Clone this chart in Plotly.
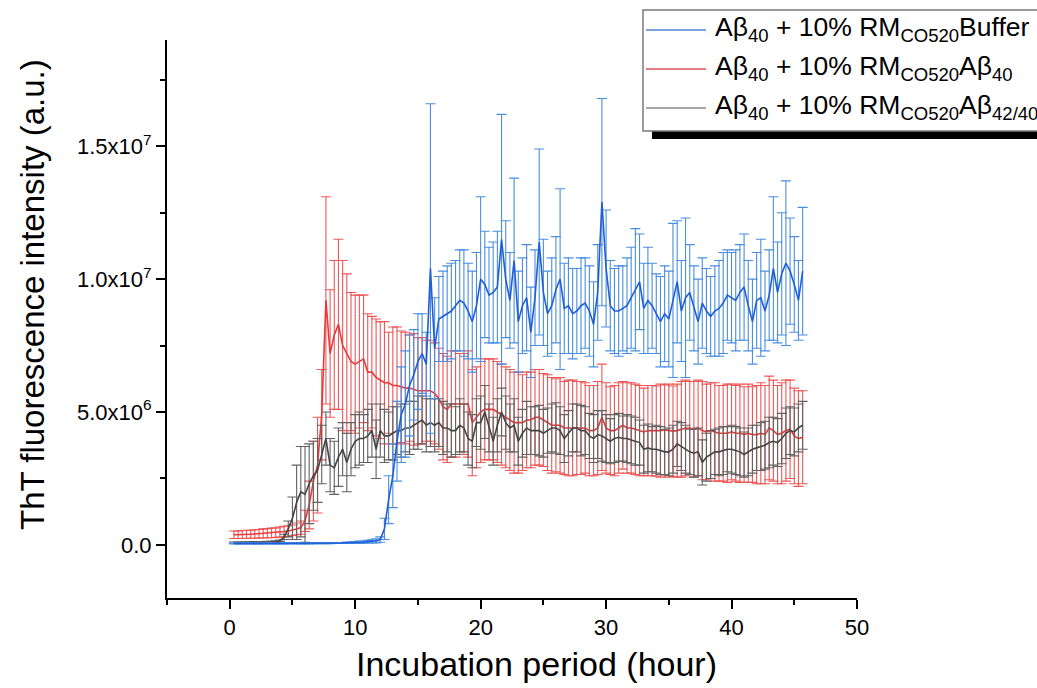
import plotly.graph_objects as go

# Sampling schedule: every 20 min, 137 reads
time_h = [round((i + 1) / 3, 3) for i in range(137)]

# Values in units of 1e6 (a.u.)
buffer_mean = [
    0.05, 0.05, 0.05, 0.06, 0.05, 0.05, 0.05, 0.05, 0.06, 0.05, 0.05, 0.05,
    0.05, 0.05, 0.06, 0.05, 0.05, 0.05, 0.05, 0.06, 0.06, 0.06, 0.06, 0.06,
    0.07, 0.07, 0.07, 0.08, 0.08, 0.09, 0.10, 0.10, 0.12, 0.13, 0.15, 0.20,
    0.6, 1.7, 2.6, 3.9, 4.9, 5.3, 6.0, 6.4, 6.9, 7.2, 6.8, 10.4,
    7.4, 8.5, 8.6, 8.7, 8.8, 9.0, 9.2, 9.1, 8.8, 8.4, 9.0, 10.0,
    9.8, 9.4, 9.5, 9.7, 11.5, 10.0, 9.2, 10.7, 8.4, 9.0, 9.3, 8.0,
    9.3, 11.4, 9.5, 8.7, 9.0, 9.6, 10.0, 8.9, 9.0, 8.7, 8.8, 9.0,
    9.1, 8.8, 8.3, 9.5, 12.9, 10.4, 9.0, 8.8, 8.8, 8.9, 9.0, 9.3,
    9.6, 9.9, 8.9, 9.2, 9.0, 8.7, 8.4, 8.7, 8.5, 9.2, 9.9, 8.8,
    9.3, 9.5, 8.9, 8.4, 9.1, 8.8, 8.6, 8.8, 8.9, 9.1, 9.4, 9.3,
    9.2, 9.5, 9.7, 9.0, 8.4, 9.2, 9.3, 8.8, 9.4, 10.4, 9.5, 10.2,
    10.6, 10.3, 9.8, 9.2, 10.3,
]
buffer_err = [
    0.02, 0.02, 0.02, 0.02, 0.02, 0.02, 0.02, 0.02, 0.02, 0.02, 0.02, 0.02,
    0.02, 0.02, 0.02, 0.02, 0.02, 0.02, 0.02, 0.02, 0.02, 0.02, 0.02, 0.02,
    0.02, 0.02, 0.02, 0.03, 0.03, 0.03, 0.04, 0.04, 0.05, 0.06, 0.08, 0.10,
    0.4, 0.9, 1.2, 1.5, 1.8, 2.0, 1.9, 1.7, 1.8, 1.5, 1.2, 6.2,
    1.9, 1.6, 1.7, 1.8, 1.8, 1.7, 1.9, 2.0, 1.8, 1.9, 2.0, 3.1,
    2.0, 1.8, 1.9, 2.1, 4.7, 2.2, 1.8, 3.1, 1.9, 1.8, 2.0, 1.7,
    1.8, 3.5, 2.0, 1.6, 1.8, 2.0, 3.4, 1.7, 1.8, 1.7, 1.6, 1.8,
    1.7, 1.7, 1.6, 1.8, 3.9, 2.2, 1.7, 1.6, 1.7, 1.6, 1.8, 1.9,
    2.3, 1.8, 1.7, 2.0, 1.6, 1.5, 1.7, 1.8, 1.8, 2.9, 2.3, 1.9,
    3.0, 1.8, 1.6, 1.6, 1.7, 1.6, 1.5, 1.7, 1.8, 1.9, 1.7, 1.7,
    1.9, 1.8, 2.0, 1.7, 1.6, 1.8, 2.2, 1.5, 1.7, 2.7, 1.9, 2.3,
    3.1, 2.0, 1.8, 1.5, 2.4,
]

ab40_mean = [
    0.38, 0.38, 0.39, 0.40, 0.40, 0.41, 0.42, 0.43, 0.44, 0.45, 0.46, 0.48,
    0.50, 0.52, 0.55, 0.60, 0.65, 0.90, 1.5, 2.4, 3.0, 4.9, 9.2, 7.2,
    7.9, 8.3, 7.5, 7.2, 6.9, 6.8, 6.9, 7.0, 6.5, 6.5, 6.3, 6.2,
    6.1, 6.1, 6.0, 6.0, 5.95, 5.9, 5.9, 5.85, 5.8, 5.8, 5.8, 5.8,
    5.7, 5.5, 5.2, 5.1, 5.3, 5.3, 5.3, 5.3, 5.3, 4.6, 4.8, 5.0,
    5.1, 5.1, 5.1, 5.0, 4.9, 4.8, 4.7, 4.6, 4.6, 4.6, 4.7, 4.7,
    4.8, 4.8, 4.7, 4.6, 4.5, 4.5, 4.5, 4.4, 4.4, 4.4, 4.4, 4.4,
    4.4, 4.3, 4.3, 4.4, 4.8, 4.4, 4.3, 4.3, 4.4, 4.5, 4.4, 4.4,
    4.35, 4.3, 4.25, 4.3, 4.3, 4.28, 4.3, 4.32, 4.3, 4.28, 4.3, 4.35,
    4.4, 4.4, 4.35, 4.4, 4.3, 4.25, 4.3, 4.25, 4.2, 4.2, 4.2, 4.25,
    4.2, 4.2, 4.15, 4.2, 4.15, 4.15, 4.2, 4.15, 4.4, 4.3, 4.15, 4.2,
    4.3, 4.35, 4.1, 4.0, 4.05,
]
ab40_err = [
    0.14, 0.14, 0.15, 0.15, 0.15, 0.16, 0.16, 0.17, 0.17, 0.18, 0.18, 0.19,
    0.2, 0.2, 0.2, 0.22, 0.25, 0.4, 0.9, 1.5, 1.8, 1.7, 3.9, 2.4,
    2.8, 3.2, 3.2, 3.0, 2.6, 2.6, 2.5, 2.4, 2.2, 2.1, 2.2, 2.2,
    2.3, 1.9, 2.2, 2.2, 2.1, 2.1, 2.0, 2.1, 2.0, 2.0, 1.9, 1.9,
    1.9, 1.9, 2.0, 2.0, 2.0, 2.0, 1.9, 1.9, 2.0, 2.0, 1.9, 1.9,
    1.9, 1.9, 1.9, 1.9, 1.9, 1.9, 1.9, 1.9, 1.9, 1.8, 1.8, 1.8,
    1.8, 1.8, 1.75, 1.8, 1.8, 1.75, 1.8, 1.75, 1.8, 1.8, 1.75, 1.75,
    1.7, 1.7, 1.7, 1.75, 2.0, 1.7, 1.65, 1.7, 1.7, 1.65, 1.7, 1.7,
    1.7, 1.7, 1.65, 1.7, 1.7, 1.7, 1.75, 1.7, 1.75, 1.7, 1.75, 1.8,
    1.8, 1.75, 1.8, 1.8, 1.85, 1.8, 1.8, 1.85, 1.8, 1.8, 1.85, 1.8,
    1.8, 1.85, 1.8, 1.85, 1.8, 1.85, 1.9, 1.85, 1.95, 1.9, 1.85, 1.9,
    1.9, 1.85, 1.8, 1.8, 1.75,
]

ab4240_mean = [
    0.08, 0.08, 0.08, 0.08, 0.08, 0.09, 0.09, 0.09, 0.10, 0.10, 0.12, 0.15,
    0.3, 0.6, 1.0, 1.6, 2.0, 1.9, 2.3, 2.6, 2.8, 3.4, 4.0, 3.0,
    2.9, 3.3, 3.6, 3.1, 3.6, 3.9, 4.0, 4.0, 4.1, 4.3, 3.6, 4.3,
    4.1, 4.1, 4.2, 4.3, 4.3, 4.4, 4.4, 4.5, 4.6, 4.7, 4.5, 4.6,
    4.5, 4.6, 4.4, 4.4, 4.3, 4.3, 4.5, 4.4, 4.0, 3.9, 4.6, 4.6,
    5.0, 4.4, 3.9, 4.5, 5.0, 4.6, 4.4, 4.5, 3.9, 4.2, 4.4, 4.3,
    4.3, 4.3, 4.2, 4.3, 4.4, 4.4, 4.3, 4.0, 4.2, 4.4, 4.4, 4.3,
    4.3, 4.1, 4.0, 4.15, 4.1, 4.0, 3.9, 4.0, 4.05, 4.0, 4.0, 3.95,
    3.9, 3.85, 3.6, 3.65, 3.6, 3.6, 3.55, 3.5, 3.5, 3.6, 3.8, 3.7,
    3.6, 3.5, 3.45, 3.5, 3.1, 3.3, 3.4, 3.5, 3.5, 3.55, 3.6, 3.6,
    3.55, 3.5, 3.4, 3.5, 3.6, 3.65, 3.7, 3.75, 3.85, 3.9, 3.85, 4.0,
    4.2, 4.3, 4.25, 4.4, 4.5,
]
ab4240_err = [
    0.03, 0.03, 0.03, 0.03, 0.03, 0.03, 0.03, 0.03, 0.03, 0.03, 0.03, 0.03,
    0.1, 0.3, 0.8, 1.4, 1.7, 1.8, 1.5, 1.3, 1.2, 1.1, 1.0, 1.0,
    1.0, 1.1, 1.0, 1.1, 1.0, 1.0, 1.0, 0.9, 1.0, 1.0, 1.1, 1.0,
    1.0, 0.9, 1.0, 0.9, 1.0, 0.9, 1.0, 0.9, 1.0, 0.9, 1.0, 0.9,
    1.0, 0.9, 1.0, 0.9, 1.0, 0.9, 1.0, 0.9, 1.0, 1.0, 0.9, 1.0,
    1.0, 0.9, 0.9, 1.0, 0.9, 1.0, 0.9, 1.0, 0.9, 0.9, 1.0, 0.9,
    0.9, 0.95, 0.9, 0.85, 0.9, 0.95, 0.9, 0.9, 0.85, 0.9, 0.9, 0.95,
    0.9, 0.85, 0.9, 0.9, 0.95, 0.9, 0.85, 0.9, 0.9, 0.85, 0.9, 0.9,
    0.9, 0.85, 0.9, 0.9, 0.85, 0.9, 0.9, 0.85, 0.9, 0.9, 0.85, 0.9,
    0.9, 0.85, 0.9, 0.9, 0.85, 0.9, 0.9, 0.85, 0.9, 0.9, 0.85, 0.9,
    0.9, 0.9, 0.85, 0.9, 0.9, 0.85, 0.9, 0.9, 0.95, 0.9, 0.9, 0.95,
    0.95, 0.9, 0.9, 0.9, 0.9,
]

series_names = [
    "Aβ<sub>40</sub> + 10% RM<sub>CO520</sub>Buffer",
    "Aβ<sub>40</sub> + 10% RM<sub>CO520</sub>Aβ<sub>40</sub>",
    "Aβ<sub>40</sub> + 10% RM<sub>CO520</sub>Aβ<sub>42/40</sub>",
]

y_tickvals = [0, 5e6, 1e7, 1.5e7]
y_ticktext = ["0.0", "5.0x10<sup>6</sup>", "1.0x10<sup>7</sup>", "1.5x10<sup>7</sup>"]
x_tickvals = [0, 10, 20, 30, 40, 50]
x_title = "Incubation period (hour)"
y_title = "ThT fluorescence intensity (a.u.)"

SCALE = 1e6
FONT = "Arial, Liberation Sans, sans-serif"

# figure geometry (pixels)
W, H = 1037, 688
L, R, T, B = 167, 180, 40, 90
PW, PH = W - L - R, H - T - B


def px(xp):
    return (xp - L) / PW


def py(yp):
    return (H - B - yp) / PH


styles = [
    dict(line="#1f5fd6", err="#4a8ee2", legend="#4f86d2"),
    dict(line="#e8383a", err="#ef5656", legend="#e0505a"),
    dict(line="#444444", err="#626262", legend="#8a8a8a"),
]

data = [
    (buffer_mean, buffer_err),
    (ab40_mean, ab40_err),
    (ab4240_mean, ab4240_err),
]

fig = go.Figure()
draw_order = [1, 2, 0]
for k in draw_order:
    m, e = data[k]
    st = styles[k]
    fig.add_trace(go.Scatter(
        x=time_h,
        y=[v * SCALE for v in m],
        mode="lines",
        name=series_names[k],
        line=dict(color=st["line"], width=1.6),
        error_y=dict(type="data", array=[v * SCALE for v in e], visible=True,
                     color=st["err"], thickness=1.1, width=5),
        showlegend=False,
    ))

# custom legend box (drop-shadow style)
shapes = [
    dict(type="rect", xref="paper", yref="paper",
         x0=px(652), x1=px(1060), y0=py(139), y1=py(20),
         fillcolor="black", line=dict(width=0), layer="above"),
    dict(type="rect", xref="paper", yref="paper",
         x0=px(643), x1=px(1050), y0=py(131), y1=py(10),
         fillcolor="white", line=dict(color="#7a7a7a", width=1.5), layer="above"),
]
annotations = []
row_y = [30, 69, 108]
for k in range(3):
    shapes.append(dict(type="line", xref="paper", yref="paper",
                       x0=px(646), x1=px(706), y0=py(row_y[k]), y1=py(row_y[k]),
                       line=dict(color=styles[k]["legend"], width=1.6), layer="above"))
    annotations.append(dict(xref="paper", yref="paper", x=px(713), y=py(row_y[k] - 1),
                            xanchor="left", yanchor="middle", showarrow=False,
                            text=series_names[k],
                            font=dict(family=FONT, size=26.5, color="black")))

# axis titles placed as in the reference
annotations.append(dict(xref="paper", yref="paper", x=px(536), y=py(664),
                        xanchor="center", yanchor="middle", showarrow=False,
                        text=x_title, font=dict(family=FONT, size=34, color="black")))
annotations.append(dict(xref="paper", yref="paper", x=px(32), y=py(295),
                        xanchor="center", yanchor="middle", showarrow=False, textangle=-90,
                        text=y_title, font=dict(family=FONT, size=33, color="black")))

fig.update_layout(
    width=W, height=H,
    margin=dict(l=L, r=R, t=T, b=B),
    paper_bgcolor="white", plot_bgcolor="white",
    font=dict(family=FONT, color="black"),
    shapes=shapes,
    annotations=annotations,
    showlegend=False,
)
fig.update_xaxes(
    range=[-5, 50], tickvals=x_tickvals,
    showline=True, linecolor="black", linewidth=2, mirror=False,
    ticks="outside", ticklen=9, tickwidth=2, tickcolor="black",
    minor=dict(dtick=5, tick0=0, ticks="outside", ticklen=5, tickwidth=2, tickcolor="black"),
    showgrid=False, zeroline=False,
    tickfont=dict(family=FONT, size=22, color="black"),
)
fig.update_yaxes(
    range=[-2e6, 1.9e7], tickmode="array", tickvals=y_tickvals, ticktext=y_ticktext,
    showline=True, linecolor="black", linewidth=2, mirror=False,
    ticks="outside", ticklen=9, tickwidth=2, tickcolor="black",
    minor=dict(tickmode="array", tickvals=[2.5e6, 7.5e6, 1.25e7, 1.75e7],
               ticks="outside", ticklen=5, tickwidth=2, tickcolor="black"),
    showgrid=False, zeroline=False,
    tickfont=dict(family=FONT, size=22, color="black"),
)

fig.write_html("out.html")
